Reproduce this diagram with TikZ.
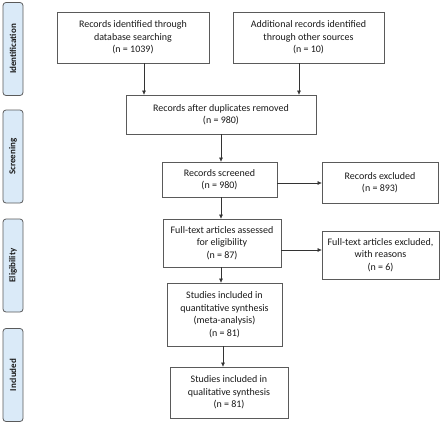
\documentclass[tikz,border=0pt]{standalone}
\usepackage{fontspec}
\setmainfont{Carlito}
\usetikzlibrary{arrows.meta}
\definecolor{sidefill}{HTML}{DAEAF8}
\definecolor{boxline}{HTML}{5A5A5A}
\definecolor{txt}{HTML}{1A1A1A}
\begin{document}
\begin{tikzpicture}[x=1pt,y=-1pt,
  box/.style={draw=boxline, line width=0.8pt, fill=white, align=center, inner sep=1pt,
    font=\fontsize{10}{12.5}\selectfont, text=txt},
  side/.style={draw=boxline, line width=0.8pt, fill=sidefill, rounded corners=3pt,
    minimum width=20pt, minimum height=93pt, inner sep=0pt},
  sidetext/.style={rotate=90, font=\fontsize{9}{11}\selectfont\bfseries, text=txt},
  arr/.style={draw=black!80, line width=0.6pt, -{Triangle[length=4pt,width=3.5pt]}}]
\useasboundingbox (0,0) rectangle (440,424);
% side labels
\node[side] (s1) at (13,49) {};
\node[sidetext] (t1) at (s1) {Identification};
\node[side] (s2) at (13,156.5) {};
\node[sidetext] (t2) at (s2) {Screening};
\node[side] (s3) at (13,265.5) {};
\node[sidetext] (t3) at (s3) {Eligibility};
\node[side] (s4) at (13,375) {};
\node[sidetext] (t4) at (s4) {Included};
% boxes
\node[box, minimum width=152pt, minimum height=51pt] (b1) at (133,37.5)
  {Records identified through\\database searching\\(n = 1039)};
\node[box, minimum width=151pt, minimum height=51pt] (b2) at (308.5,37.5)
  {Additional records identified\\through other sources\\(n = 10)};
\node[box, minimum width=190pt, minimum height=39pt] (dd) at (221,114.5)
  {Records after duplicates removed\\(n = 980)};
\node[box, minimum width=115pt, minimum height=35pt] (sc) at (219.5,179.5)
  {Records screened\\(n = 980)};
\node[box, minimum width=116pt, minimum height=41pt] (ex) at (380,182.5)
  {Records excluded\\(n = 893)};
\node[box, minimum width=118pt, minimum height=48pt] (ft) at (222,243)
  {Full-text articles assessed\\for eligibility\\(n = 87)};
\node[box, minimum width=117pt, minimum height=48pt] (fx) at (380.5,255)
  {Full-text articles excluded,\\with reasons\\(n = 6)};
\node[box, minimum width=115pt, minimum height=63pt] (qn) at (224.5,314.5)
  {Studies included in\\quantitative synthesis\\(meta-analysis)\\(n = 81)};
\node[box, minimum width=118pt, minimum height=51pt] (ql) at (229,392.5)
  {Studies included in\\qualitative synthesis\\(n = 81)};
% arrows
\draw[arr] ([xshift=11pt]b1.south) -- ([xshift=11pt]b1.south |- dd.north);
\draw[arr] ([xshift=-9.5pt]b2.south) -- ([xshift=-9.5pt]b2.south |- dd.north);
\draw[arr] (dd.south) -- (dd.south |- sc.north);
\draw[arr] ([yshift=-3.5pt]sc.east) -- ([yshift=-3.5pt]sc.east -| ex.west);
\draw[arr] ([xshift=1.5pt]sc.south) -- ([xshift=1.5pt]sc.south |- ft.north);
\draw[arr] ([yshift=-7pt]ft.east) -- ([yshift=-7pt]ft.east -| fx.west);
\draw[arr] ([xshift=-1pt]ft.south) -- ([xshift=-1pt]ft.south |- qn.north);
\draw[arr] ([xshift=-1.5pt]qn.south) -- ([xshift=-1.5pt]qn.south |- ql.north);
\end{tikzpicture}
\end{document}
